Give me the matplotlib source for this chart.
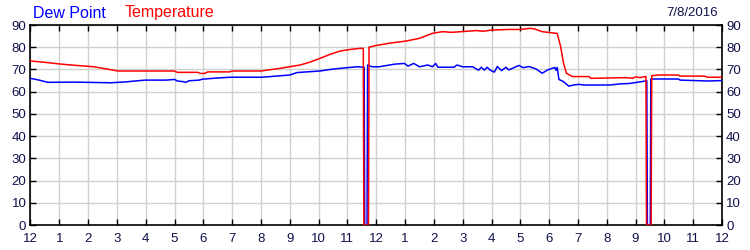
import matplotlib
matplotlib.use("Agg")
import matplotlib.pyplot as plt

plt.rcParams['font.family'] = ['Liberation Sans', 'DejaVu Sans']

hour_labels = ['12', '1', '2', '3', '4', '5', '6', '7', '8', '9', '10', '11',
               '12', '1', '2', '3', '4', '5', '6', '7', '8', '9', '10', '11', '12']
y_ticks = [0, 10, 20, 30, 40, 50, 60, 70, 80, 90]

temp_hours = [0, 0.5, 1.06, 1.6, 2.2, 2.6, 3.04, 4.0, 4.98, 5.1, 5.8, 5.9, 6.05, 6.15,
              6.9, 7.0, 8.0, 8.66, 9.36, 9.7, 10.05, 10.4, 10.75, 11.1, 11.44, 11.55,
              11.57, 11.73, 11.75, 11.96, 12.46, 13.04, 13.5, 13.96, 14.31, 14.6, 14.95,
              15.47, 15.7, 16.0, 16.6, 17.0, 17.34, 17.5, 17.76, 18.28, 18.4, 18.5, 18.6,
              18.8, 19.38, 19.45, 20.68, 20.9, 21.0, 21.15, 21.33, 21.36, 21.38, 21.54,
              21.56, 21.8, 22.48, 22.55, 23.4, 23.5, 24]
temp_values = [73.8, 73.2, 72.4, 71.8, 71.2, 70.3, 69.3, 69.3, 69.3, 68.7, 68.7, 68.2, 68.2, 68.9,
               68.9, 69.3, 69.3, 70.5, 72.0, 73.3, 75.0, 76.8, 78.3, 79.0, 79.5, 79.5,
               0, 0, 80.0, 80.7, 81.8, 82.8, 84.0, 86.3, 87.0, 86.7, 87.0,
               87.5, 87.2, 87.7, 88.0, 88.0, 88.5, 88.2, 87.0, 86.2, 80.3, 72.8, 68.3,
               66.8, 66.8, 66.0, 66.3, 66.0, 66.7, 66.3, 66.8, 66.8, 0, 0,
               67.2, 67.5, 67.5, 67.0, 67.0, 66.5, 66.5]

dew_hours = [0, 0.3, 0.6, 1.5, 2.8, 3.3, 3.97, 4.7, 5.0, 5.1, 5.3, 5.4, 5.5, 5.85, 5.96,
             6.43, 6.95, 8.04, 9.0, 9.25, 10.05, 10.4, 10.75, 11.0, 11.33, 11.58, 11.6,
             11.68, 11.70, 11.85, 12.1, 12.46, 12.66, 12.98, 13.1, 13.3, 13.5, 13.79,
             13.95, 14.06, 14.14, 14.7, 14.8, 15.0, 15.35, 15.45, 15.55, 15.65, 15.75,
             15.85, 15.95, 16.1, 16.2, 16.35, 16.5, 16.6, 16.95, 17.1, 17.3, 17.55,
             17.76, 17.95, 18.2, 18.24, 18.28, 18.34, 18.5, 18.68, 18.85, 19.03, 19.2,
             20.12, 20.45, 20.8, 21.15, 21.39, 21.41, 21.51, 21.53, 21.8, 22.48, 22.55,
             23.52, 24]
dew_values = [66.0, 65.2, 64.2, 64.3, 64.0, 64.4, 65.2, 65.2, 65.5, 64.8, 64.5, 64.2, 64.9, 65.2, 65.6,
              66.1, 66.5, 66.5, 67.5, 68.6, 69.3, 70.0, 70.5, 70.8, 71.2, 71.0, 0,
              0, 72.0, 71.2, 71.2, 72.0, 72.4, 72.7, 71.5, 72.7, 71.2, 72.0,
              71.2, 72.7, 71.0, 71.0, 72.0, 71.2, 71.2, 70.4, 69.7, 71.0, 69.7,
              71.0, 69.7, 68.8, 71.3, 69.5, 71.0, 69.8, 71.8, 70.8, 71.3, 70.2,
              68.3, 69.8, 70.9, 69.6, 70.9, 65.5, 64.5, 62.5, 63.0, 63.3, 63.0,
              63.0, 63.5, 63.7, 64.4, 64.9, 0, 0, 65.7, 65.7, 65.7, 65.2,
              64.8, 65.0]

label_color = '#10104a'

fig = plt.figure(figsize=(7.5, 2.5), dpi=100)
ax = fig.add_axes([30.5 / 750, 0.1, (722 - 30.5) / 750, 0.8])

ax.plot(dew_hours, dew_values, color='#0000ff', lw=1.1, zorder=3)
ax.plot(temp_hours, temp_values, color='#ff0000', lw=1.1, zorder=3)

ax.set_xlim(0, 24)
ax.set_ylim(0, 90)
ax.set_xticks(range(25))
ax.set_xticklabels(hour_labels)
ax.set_yticks(y_ticks)
ax.grid(True, color='#d0d0d0', lw=1)
ax.set_axisbelow(True)
ax.tick_params(axis='both', direction='in', length=4, width=1, colors='black',
               labelcolor=label_color, labelsize=9.5, top=True, right=True,
               labelright=True, labelleft=True)
ax.tick_params(axis='x', pad=6)
ax.tick_params(axis='y', pad=3)
for s in ax.spines.values():
    s.set_linewidth(1.2)
    s.set_color('black')

fig.text(33 / 750, 1 - 13 / 250, 'Dew Point', color='#0000ff', fontsize=11.5, va='center', ha='left')
fig.text(125 / 750, 1 - 13 / 250, 'Temperature', color='#ff0000', fontsize=11.5, va='center', ha='left')
fig.text(718 / 750, 1 - 13 / 250, '7/8/2016', color=label_color, fontsize=9.5, va='center', ha='right')

fig.savefig('out.png', dpi=100)
